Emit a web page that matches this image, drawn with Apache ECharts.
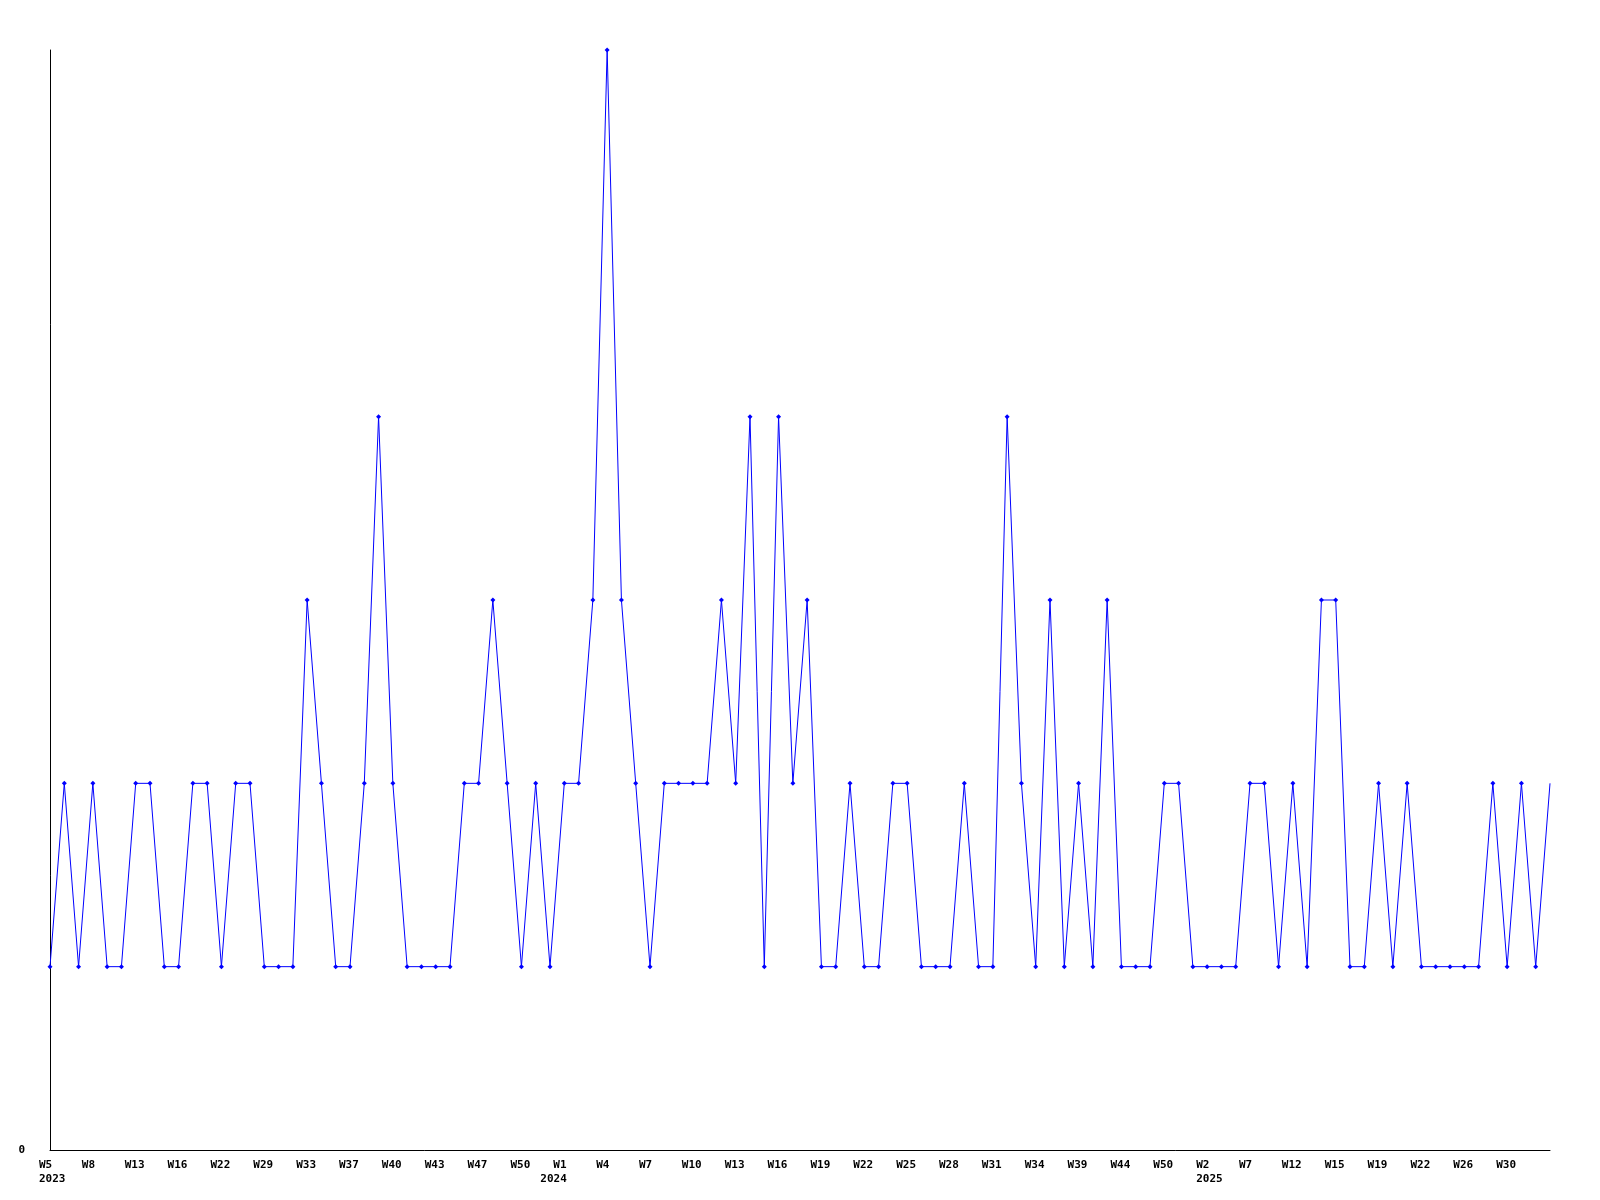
<!DOCTYPE html>
<html>
<head>
<meta charset="utf-8">
<script src="https://cdn.jsdelivr.net/npm/echarts@6/dist/echarts.min.js"></script>
<style>html,body{margin:0;padding:0;background:#fff}#c{width:1600px;height:1200px}</style>
</head>
<body>
<div id="c"></div>
<script>
// Tick labels shown every 3rd category (index -> label)
const tickLabels = ["W5\n2023","W8","W13","W16","W22","W29","W33","W37","W40","W43","W47","W50",
  "W1\n2024","W4","W7","W10","W13","W16","W19","W22","W25","W28","W31","W34","W39","W44","W50",
  "W2\n2025","W7","W12","W15","W19","W22","W26","W30"];
const values = [1,2,1,2,1,1,2,2,1,1,2,2,1,2,2,1,1,1,3,2,1,1,2,4,2,1,1,1,1,2,
  2,3,2,1,2,1,2,2,3,6,3,2,1,2,2,2,2,3,2,4,1,4,2,3,1,1,2,1,1,2,
  2,1,1,1,2,1,1,4,2,1,3,1,2,1,3,1,1,1,2,2,1,1,1,1,2,2,1,2,1,3,
  3,1,1,2,1,2,1,1,1,1,1,2,1,2,1,2];
const categories = values.map((v, i) => (i % 3 === 0 && tickLabels[i / 3] !== undefined) ? tickLabels[i / 3] : "c" + i);

const chart = echarts.init(document.getElementById('c'));
const font = '"DejaVu Sans Mono", monospace';
chart.setOption({
  animation: false,
  backgroundColor: '#fff',
  grid: {left: 50, right: 50, top: 50, bottom: 50},
  xAxis: {
    type: 'category',
    data: categories,
    boundaryGap: false,
    axisLine: {lineStyle: {color: '#000', width: 1}},
    axisTick: {show: false},
    splitLine: {show: false},
    axisLabel: {
      interval: 2,
      color: '#000',
      fontFamily: font,
      fontWeight: 'bold',
      fontSize: 11,
      lineHeight: 14,
      align: 'left',
      padding: [0, 0, 0, -11],
      margin: 8,
      formatter: v => {
        if (v.startsWith('c')) return '';
        if (v.indexOf('2024') >= 0) { const p = v.split('\n'); return '{w|' + p[0] + '}\n{y|' + p[1] + '}'; }
        return v;
      },
      rich: {
        w: {fontFamily: font, fontWeight: 'bold', fontSize: 11, lineHeight: 14, color: '#000'},
        y: {fontFamily: font, fontWeight: 'bold', fontSize: 11, lineHeight: 14, color: '#000', padding: [0, 0, 0, -13]}
      }
    }
  },
  yAxis: {
    type: 'value',
    min: 0, max: 6, interval: 1,
    axisLine: {show: true, lineStyle: {color: '#000', width: 1}},
    axisTick: {show: false},
    splitLine: {show: false},
    axisLabel: {
      color: '#000', fontFamily: font, fontWeight: 'bold', fontSize: 11, margin: 25,
      formatter: v => v === 0 ? '0' : ''
    }
  },
  series: [{
    type: 'line',
    data: values.map((v, i) => i === values.length - 1 ? {value: v, symbol: 'none'} : v),
    symbol: 'diamond',
    symbolSize: 5,
    showAllSymbol: true,
    lineStyle: {color: '#0000ff', width: 1},
    itemStyle: {color: '#0000ff'}
  }]
});
</script>
</body>
</html>
